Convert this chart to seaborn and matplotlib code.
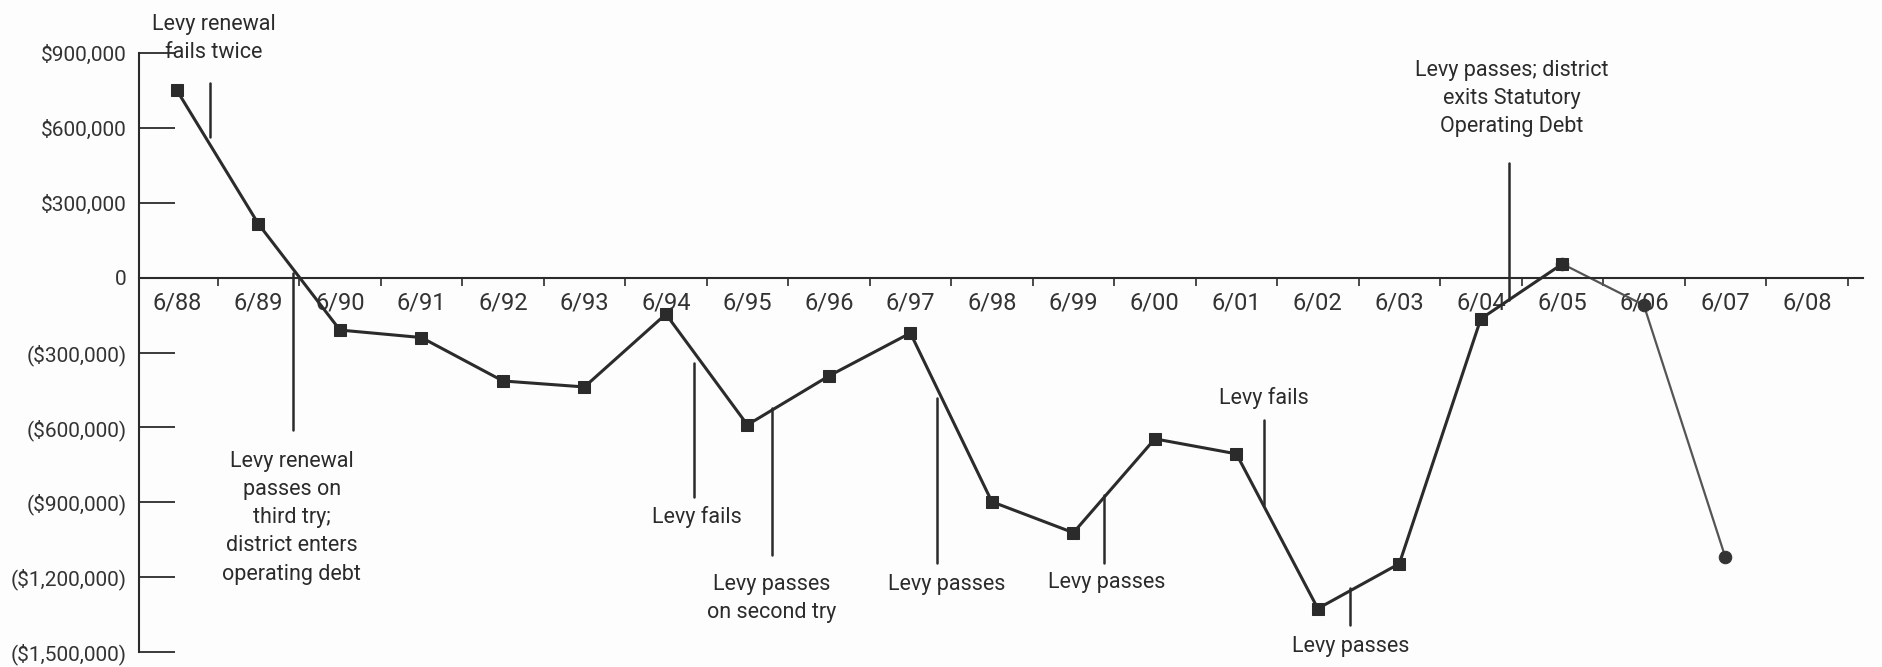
import numpy as np
import pandas as pd
import matplotlib.pyplot as plt
import seaborn as sns
from matplotlib.ticker import FixedLocator, FixedFormatter

years = ['6/88', '6/89', '6/90', '6/91', '6/92', '6/93', '6/94', '6/95', '6/96', '6/97',
         '6/98', '6/99', '6/00', '6/01', '6/02', '6/03', '6/04', '6/05', '6/06', '6/07', '6/08']

# year-end balance, 6/88 .. 6/05
balance = [750000, 215000, -210000, -240000, -414000, -438000, -146000, -590000, -394000,
           -222000, -898000, -1022000, -646000, -706000, -1326000, -1146000, -165000, 55000]

# hand-drawn projection 6/05 .. 6/07
proj_years = ['6/05', '6/06', '6/07']
proj_balance = [55000, -110000, -1120000]

ytick_vals = [900000, 600000, 300000, 0, -300000, -600000, -900000, -1200000, -1500000]
ytick_labels = ['$900,000', '$600,000', '$300,000', '0', '($300,000)', '($600,000)',
                '($900,000)', '($1,200,000)', '($1,500,000)']

events = ['Levy renewal\nfails twice',
          'Levy renewal\npasses on\nthird try;\ndistrict enters\noperating debt',
          'Levy fails',
          'Levy passes\non second try',
          'Levy passes',
          'Levy passes',
          'Levy fails',
          'Levy passes',
          'Levy passes; district\nexits Statutory\nOperating Debt']

sns.set_style('white')
plt.rcParams['font.family'] = ['Roboto', 'DejaVu Sans']
plt.rcParams['text.parse_math'] = False

ink = '#2b2b2b'

df = pd.DataFrame({'x': np.arange(len(balance)), 'balance': balance})
proj = pd.DataFrame({'x': [years.index(y) for y in proj_years], 'balance': proj_balance})

fig = plt.figure(figsize=(18.83, 6.67), dpi=100)
fig.patch.set_facecolor('#fdfdfd')
ax = fig.add_axes([0.0738, 0.0225, 0.9156, 0.898])
ax.set_facecolor('#fdfdfd')

sns.lineplot(data=proj, x='x', y='balance', ax=ax, color='#555555', linewidth=1.6,
             marker='o', markersize=9, markerfacecolor='#333333', markeredgecolor='#333333')
sns.lineplot(data=df, x='x', y='balance', ax=ax, color=ink, linewidth=2.2,
             marker='s', markersize=8, markerfacecolor=ink, markeredgecolor=ink)

ax.set_xlim(-0.466, 20.69)
ax.set_ylim(-1500000, 900000)

ax.yaxis.set_major_locator(FixedLocator(ytick_vals))
ax.yaxis.set_major_formatter(FixedFormatter(ytick_labels))
ax.tick_params(axis='y', direction='in', length=26, width=1.3, color=ink,
               labelsize=15, labelcolor='#333333', pad=9, left=True)

ax.set_xticks(range(len(years)))
ax.set_xticklabels(years)
ax.set_xticks(np.arange(len(years)) + 0.5, minor=True)
ax.tick_params(axis='x', which='major', length=0, labelsize=17, labelcolor='#333333', pad=10)
ax.tick_params(axis='x', which='minor', direction='out', length=6, width=1.2, color=ink, bottom=True)
for lbl in ax.get_xticklabels()[18:]:
    lbl.set_color('#666666')

ax.spines['top'].set_visible(False)
ax.spines['right'].set_visible(False)
ax.spines['left'].set_color(ink)
ax.spines['left'].set_linewidth(1.5)
ax.spines['bottom'].set_position(('data', 0))
ax.spines['bottom'].set_color(ink)
ax.spines['bottom'].set_linewidth(1.5)
ax.set_xlabel('')
ax.set_ylabel('')

# annotation leader lines: x, y top, y bottom
leaders = [(0.40, 778000, 562000), (1.42, 20000, -610000), (6.34, -342000, -878000),
           (7.30, -522000, -1110000), (9.33, -482000, -1142000), (11.37, -870000, -1142000),
           (13.34, -570000, -910000), (14.40, -1242000, -1390000), (16.34, 458000, -90000)]
text_pos = [(0.45, 958000), (1.41, -962000), (6.38, -958000), (7.30, -1286000),
            (9.44, -1230000), (11.41, -1222000), (13.34, -482000), (14.40, -1478000),
            (16.38, 718000)]

for (lx, y0, y1), (tx, ty), txt in zip(leaders, text_pos, events):
    ax.plot([lx, lx], [y0, y1], color=ink, linewidth=1.8, clip_on=False)
    ax.text(tx, ty, txt, ha='center', va='center', fontsize=15.5, color='#2b2b2b',
            linespacing=1.45, clip_on=False)

fig.savefig('out.png', dpi=100, facecolor=fig.get_facecolor())
